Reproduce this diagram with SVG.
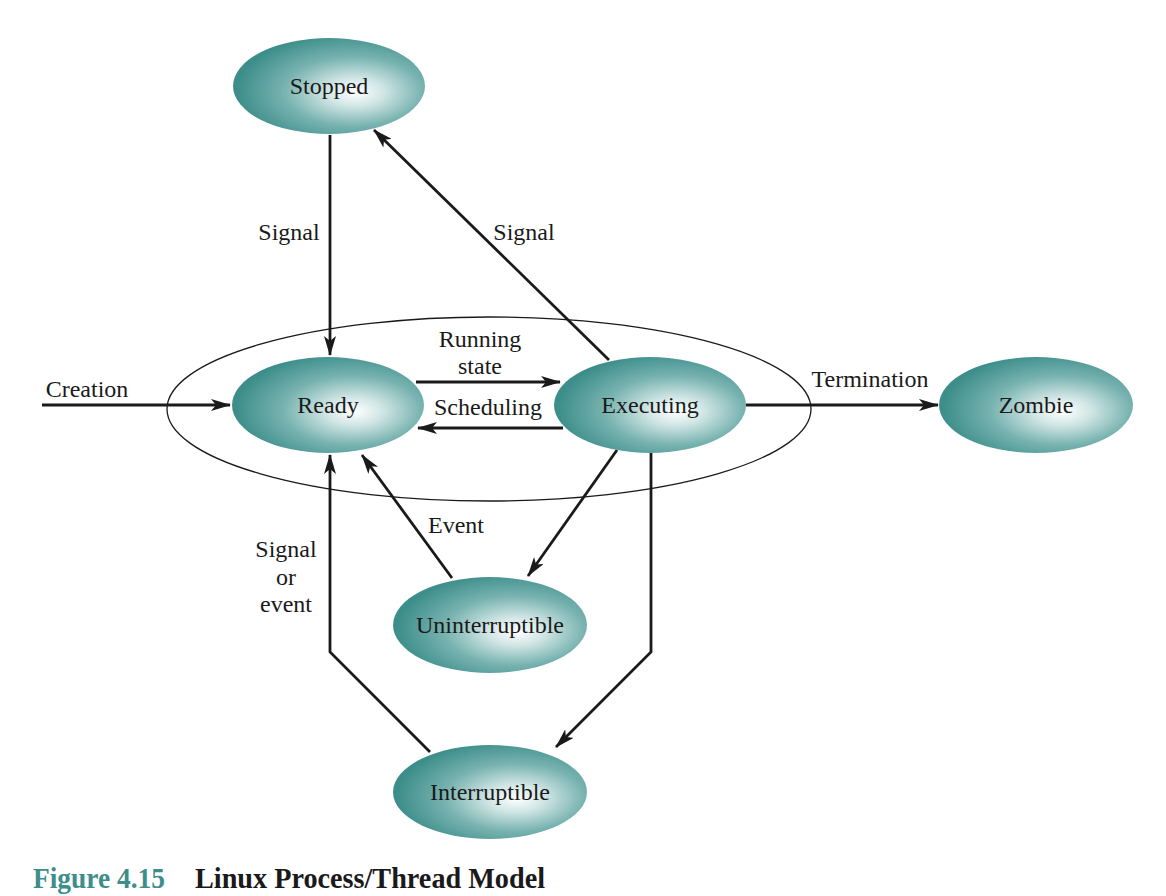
<svg xmlns="http://www.w3.org/2000/svg" width="1166" height="896" viewBox="0 0 1166 896">
<defs>
<radialGradient id="g" cx="0.62" cy="0.55" r="0.6" fx="0.64" fy="0.57">
<stop offset="0" stop-color="#ffffff"/>
<stop offset="0.25" stop-color="#cfe5e4"/>
<stop offset="0.6" stop-color="#78b3b0"/>
<stop offset="1" stop-color="#3d8e8b"/>
</radialGradient>
<marker id="a" viewBox="0 0 20 12" refX="19" refY="6" markerWidth="20" markerHeight="12" markerUnits="userSpaceOnUse" orient="auto">
<path d="M0,0 L20,6 L0,12 L5,6 Z" fill="#1a1a1a"/>
</marker>
<style>
.n{fill:url(#g);}
.t{font-family:"Liberation Serif","Times New Roman",serif;font-size:24px;fill:#1a1a1a;text-anchor:middle;}
.c{fill:none;stroke:#1a1a1a;stroke-width:2.8;marker-end:url(#a);}
</style>
</defs>
<rect width="1166" height="896" fill="#ffffff"/>
<ellipse cx="489" cy="409" rx="322" ry="92" fill="none" stroke="#1a1a1a" stroke-width="1.3"/>
<g id="connectors">
<path class="c" d="M330,135 L330,355"/>
<path class="c" d="M609,360 L374,130"/>
<path class="c" d="M42,405 L230,405"/>
<path class="c" d="M416,382 L560,382"/>
<path class="c" d="M563,428 L418,428"/>
<path class="c" d="M746,405 L938,405"/>
<path class="c" d="M617,450 L528,576"/>
<path class="c" d="M452,578 L362,455"/>
<path class="c" d="M651,453 L651,652 L556,747"/>
<path class="c" d="M430,752 L330,652 L330,455"/>
</g>
<g id="labels">
<text class="t" x="289" y="240">Signal</text>
<text class="t" x="524" y="240">Signal</text>
<text class="t" x="87" y="397">Creation</text>
<text class="t" x="480" y="347">Running</text>
<text class="t" x="480" y="374">state</text>
<text class="t" x="488" y="415">Scheduling</text>
<text class="t" x="870" y="387">Termination</text>
<text class="t" x="456" y="533">Event</text>
<text class="t" x="286" y="557">Signal</text>
<text class="t" x="286" y="585">or</text>
<text class="t" x="286" y="612">event</text>
</g>
<g id="stopped"><ellipse class="n" cx="329" cy="86" rx="96" ry="48"/><text class="t" x="329" y="94">Stopped</text></g>
<g id="ready"><ellipse class="n" cx="328" cy="405" rx="96" ry="48"/><text class="t" x="328" y="413">Ready</text></g>
<g id="executing"><ellipse class="n" cx="650" cy="405" rx="96" ry="48"/><text class="t" x="650" y="413">Executing</text></g>
<g id="zombie"><ellipse class="n" cx="1036" cy="405" rx="97" ry="48"/><text class="t" x="1036" y="413">Zombie</text></g>
<g id="uninterruptible"><ellipse class="n" cx="490" cy="625" rx="97" ry="48"/><text class="t" x="490" y="633">Uninterruptible</text></g>
<g id="interruptible"><ellipse class="n" cx="490" cy="792" rx="97" ry="47"/><text class="t" x="490" y="800">Interruptible</text></g>
<g id="caption" font-family="'Liberation Serif','Times New Roman',serif" font-weight="bold" font-size="30">
<text x="33" y="888" fill="#3d8e8b" textLength="132" lengthAdjust="spacingAndGlyphs">Figure 4.15</text>
<text x="195" y="888" fill="#1a1a1a" textLength="350" lengthAdjust="spacingAndGlyphs">Linux Process/Thread Model</text>
</g>
</svg>
